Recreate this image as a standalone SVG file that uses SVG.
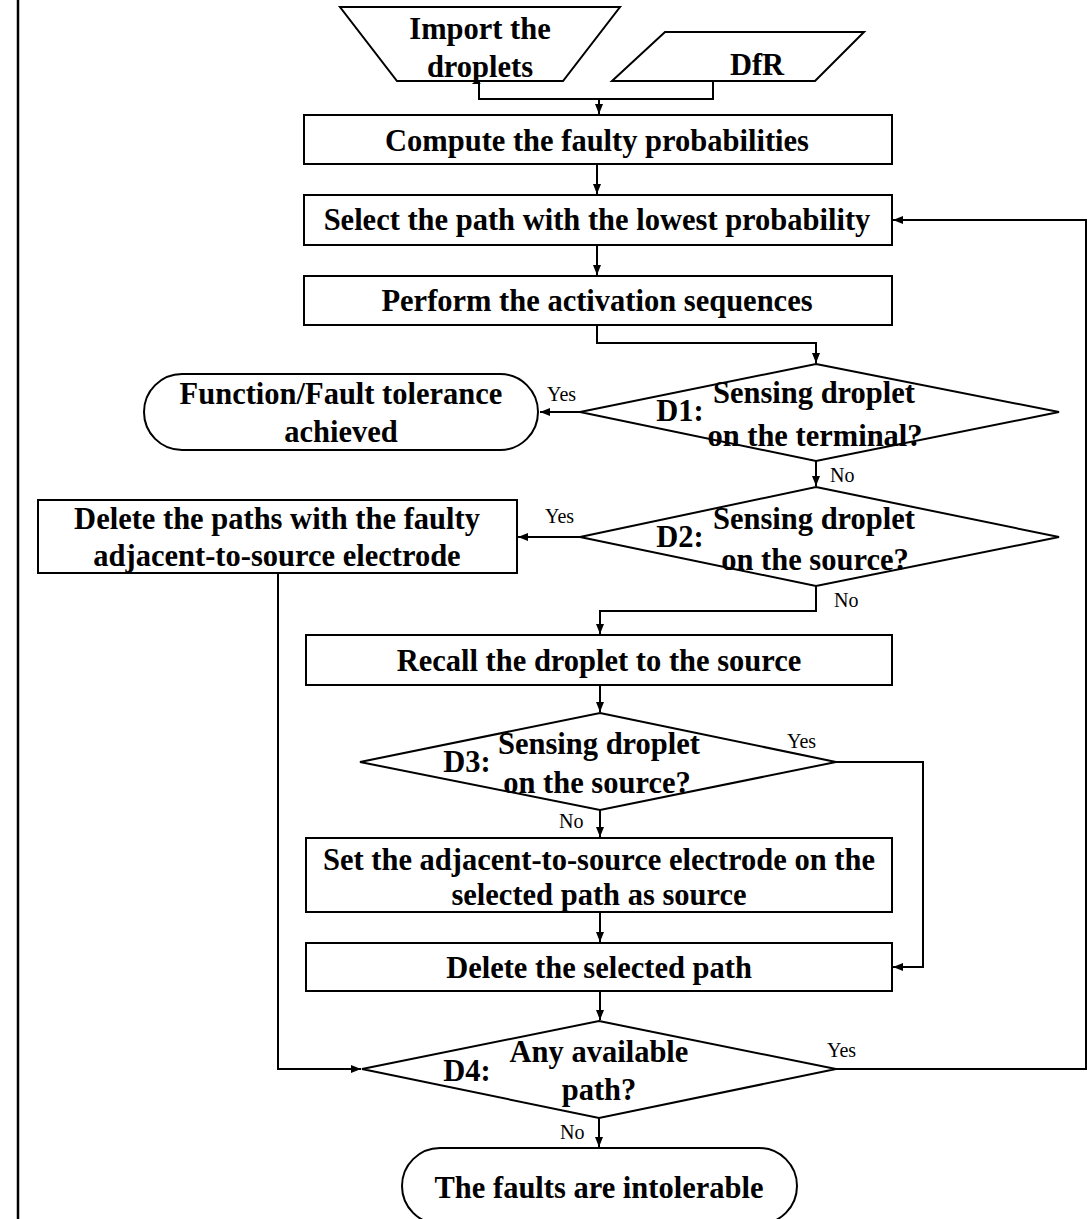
<svg xmlns="http://www.w3.org/2000/svg" width="1089" height="1219" viewBox="0 0 1089 1219">
<style>
.s{fill:#fff;stroke:#000;stroke-width:2}
.t{font-family:"Liberation Serif","Times New Roman",serif;font-weight:bold;font-size:30.5px;fill:#000;text-anchor:middle}
.l{font-family:"Liberation Serif","Times New Roman",serif;font-size:20px;fill:#000}
.c{fill:none;stroke:#000;stroke-width:2}
</style>
<defs>
<marker id="a" viewBox="0 0 10 10" refX="10" refY="5" markerWidth="10" markerHeight="10" markerUnits="userSpaceOnUse" orient="auto">
<path d="M0,1 L10,5 L0,9 Z" fill="#000"/>
</marker>
</defs>
<rect width="1089" height="1219" fill="#fff"/>
<line x1="18" y1="0" x2="18" y2="1219" stroke="#000" stroke-width="2.5"/>
<g id="connectors">
<path class="c" d="M479,81 V99 H713 V81"/>
<path class="c" d="M599,99 V114" marker-end="url(#a)"/>
<path class="c" d="M597,164 V194" marker-end="url(#a)"/>
<path class="c" d="M597,245 V275" marker-end="url(#a)"/>
<path class="c" d="M597,325 V343 H816 V363" marker-end="url(#a)"/>
<path class="c" d="M580,412 H540" marker-end="url(#a)"/>
<path class="c" d="M816,461 V486" marker-end="url(#a)"/>
<path class="c" d="M580,537 H518" marker-end="url(#a)"/>
<path class="c" d="M816,586 V611 H600 V634" marker-end="url(#a)"/>
<path class="c" d="M600,685 V712" marker-end="url(#a)"/>
<path class="c" d="M836,762 H923 V967 H893" marker-end="url(#a)"/>
<path class="c" d="M600,810 V837" marker-end="url(#a)"/>
<path class="c" d="M600,912 V942" marker-end="url(#a)"/>
<path class="c" d="M600,991 V1020" marker-end="url(#a)"/>
<path class="c" d="M278,573 V1069 H361" marker-end="url(#a)"/>
<path class="c" d="M836,1069 H1086 V220 H893" marker-end="url(#a)"/>
<path class="c" d="M599,1118 V1147" marker-end="url(#a)"/>
<text class="l" x="547" y="401">Yes</text>
<text class="l" x="830" y="482">No</text>
<text class="l" x="545" y="523">Yes</text>
<text class="l" x="834" y="607">No</text>
<text class="l" x="787" y="748">Yes</text>
<text class="l" x="559" y="828">No</text>
<text class="l" x="827" y="1057">Yes</text>
<text class="l" x="560" y="1139">No</text>
</g>
<g id="import">
<polygon class="s" points="340,7 620,7 563,81 397,81"/>
<text class="t" x="480" y="39">Import the</text>
<text class="t" x="480" y="77">droplets</text>
</g>
<g id="dfr">
<polygon class="s" points="665,32 864,32 815,81 612,81"/>
<text class="t" x="757" y="75">DfR</text>
</g>
<g id="compute">
<rect class="s" x="304" y="115" width="588" height="49"/>
<text class="t" x="597" y="151">Compute the faulty probabilities</text>
</g>
<g id="select">
<rect class="s" x="304" y="195" width="588" height="50"/>
<text class="t" x="597" y="230">Select the path with the lowest probability</text>
</g>
<g id="perform">
<rect class="s" x="304" y="276" width="588" height="49"/>
<text class="t" x="597" y="311">Perform the activation sequences</text>
</g>
<g id="d1">
<polygon class="s" points="816,364 1059,412 816,461 580,412"/>
<text class="t" x="680" y="421">D1:</text>
<text class="t" x="814" y="403">Sensing droplet</text>
<text class="t" x="815" y="446">on the terminal?</text>
</g>
<g id="achieved">
<rect class="s" x="144" y="374" width="394" height="76" rx="38" ry="38"/>
<text class="t" x="341" y="404">Function/Fault tolerance</text>
<text class="t" x="341" y="442">achieved</text>
</g>
<g id="d2">
<polygon class="s" points="816,487 1059,537 816,586 580,537"/>
<text class="t" x="680" y="547">D2:</text>
<text class="t" x="814" y="529">Sensing droplet</text>
<text class="t" x="815" y="570">on the source?</text>
</g>
<g id="deletefaulty">
<rect class="s" x="38" y="500" width="479" height="73"/>
<text class="t" x="277" y="529">Delete the paths with the faulty</text>
<text class="t" x="277" y="566">adjacent-to-source electrode</text>
</g>
<g id="recall">
<rect class="s" x="306" y="635" width="586" height="50"/>
<text class="t" x="599" y="671">Recall the droplet to the source</text>
</g>
<g id="d3">
<polygon class="s" points="600,713 836,762 600,810 360,762"/>
<text class="t" x="467" y="772">D3:</text>
<text class="t" x="599" y="754">Sensing droplet</text>
<text class="t" x="597" y="793">on the source?</text>
</g>
<g id="setsource">
<rect class="s" x="306" y="838" width="586" height="74"/>
<text class="t" x="599" y="870">Set the adjacent-to-source electrode on the</text>
<text class="t" x="599" y="905">selected path as source</text>
</g>
<g id="deleteselected">
<rect class="s" x="306" y="943" width="586" height="48"/>
<text class="t" x="599" y="978">Delete the selected path</text>
</g>
<g id="d4">
<polygon class="s" points="599,1021 836,1069 599,1118 362,1069"/>
<text class="t" x="467" y="1081">D4:</text>
<text class="t" x="599" y="1062">Any available</text>
<text class="t" x="599" y="1100">path?</text>
</g>
<g id="intolerable">
<rect class="s" x="402" y="1148" width="395" height="76" rx="38" ry="38"/>
<text class="t" x="599" y="1198">The faults are intolerable</text>
</g>
</svg>
